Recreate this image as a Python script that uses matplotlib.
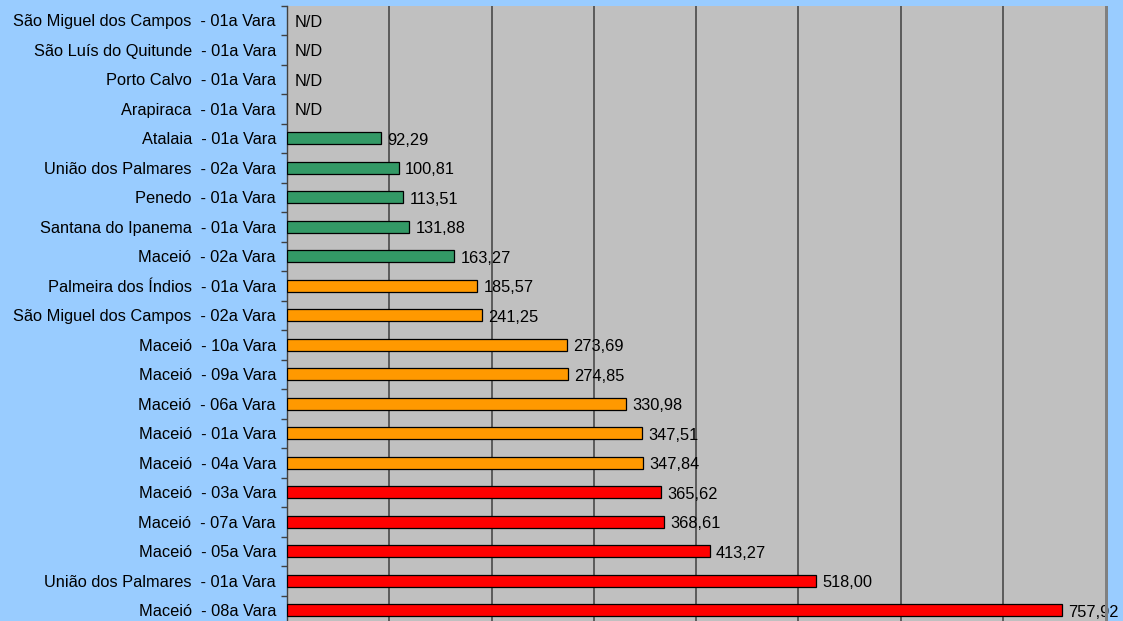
import matplotlib.pyplot as plt
from matplotlib.patches import Rectangle

# --- data (top to bottom) ---
varas = [
    "São Miguel dos Campos  - 01a Vara",
    "São Luís do Quitunde  - 01a Vara",
    "Porto Calvo  - 01a Vara",
    "Arapiraca  - 01a Vara",
    "Atalaia  - 01a Vara",
    "União dos Palmares  - 02a Vara",
    "Penedo  - 01a Vara",
    "Santana do Ipanema  - 01a Vara",
    "Maceió  - 02a Vara",
    "Palmeira dos Índios  - 01a Vara",
    "São Miguel dos Campos  - 02a Vara",
    "Maceió  - 10a Vara",
    "Maceió  - 09a Vara",
    "Maceió  - 06a Vara",
    "Maceió  - 01a Vara",
    "Maceió  - 04a Vara",
    "Maceió  - 03a Vara",
    "Maceió  - 07a Vara",
    "Maceió  - 05a Vara",
    "União dos Palmares  - 01a Vara",
    "Maceió  - 08a Vara",
]
# values printed next to the bars
valores = [None, None, None, None,
           92.29, 100.81, 113.51, 131.88, 163.27,
           185.57, 241.25, 273.69, 274.85, 330.98, 347.51, 347.84,
           365.62, 368.61, 413.27, 518.00, 757.92]
# bar lengths as drawn in the original (a few differ from their labels)
barras = [None, None, None, None,
          92.3, 109.5, 113.9, 119.5, 163.8,
          186.0, 190.5, 273.7, 275.0, 331.7, 347.5, 347.8,
          365.9, 368.9, 413.5, 517.6, 757.9]
faixa = ["nd"] * 4 + ["baixa"] * 5 + ["media"] * 7 + ["alta"] * 5

cores = {"nd": "none", "baixa": "#339966", "media": "#FF9900", "alta": "#FF0000"}

# --- figure ---
plt.rcParams['font.family'] = ['Liberation Sans', 'DejaVu Sans']
fig = plt.figure(figsize=(11.23, 6.21), dpi=100, facecolor="#99CCFF")
ax = fig.add_axes([287 / 1123, 1 - 625 / 621, 818 / 1123, 619.5 / 621])
ax.set_facecolor("#C0C0C0")

# shadow of the plot area
fig.patches.append(Rectangle((1105 / 1123, 1 - 625 / 621), 3 / 1123, 619.5 / 621,
                             transform=fig.transFigure, facecolor="#808080",
                             edgecolor="none", zorder=0))

pos = list(range(len(varas)))
for i, (v, b, f) in enumerate(zip(valores, barras, faixa)):
    if v is None:
        ax.annotate("N/D", (0, i), xytext=(5.5, -1.5), textcoords="offset points",
                    va="center", ha="left", fontsize=11.8, color="black")
        continue
    ax.barh(i, b, height=0.42, color=cores[f], edgecolor="black",
            linewidth=0.9, zorder=3)
    ax.annotate(f"{v:.2f}".replace(".", ","), (b, i), xytext=(4.5, -1.5),
                textcoords="offset points", va="center", ha="left",
                fontsize=11.8, color="black", zorder=4)

ax.set_xlim(0, 800)
ax.set_ylim(len(varas) - 0.5, -0.5)
ax.set_xticks(range(100, 800, 100))
ax.xaxis.grid(True, color="#404040", linewidth=1.1, zorder=1)
ax.tick_params(axis="x", which="both", length=0, labelbottom=False)

ax.set_yticks(pos)
ax.set_yticklabels(varas, fontsize=11.8)
ax.set_yticks([p - 0.5 for p in pos], minor=True)
ax.tick_params(axis="y", which="major", length=0, pad=8)
ax.tick_params(axis="y", which="minor", length=4, color="#404040", width=1)

for side in ["top", "bottom", "right"]:
    ax.spines[side].set_visible(False)
ax.spines["left"].set_color("#404040")
ax.spines["left"].set_linewidth(1)

fig.savefig("out.png", dpi=100, facecolor=fig.get_facecolor())
